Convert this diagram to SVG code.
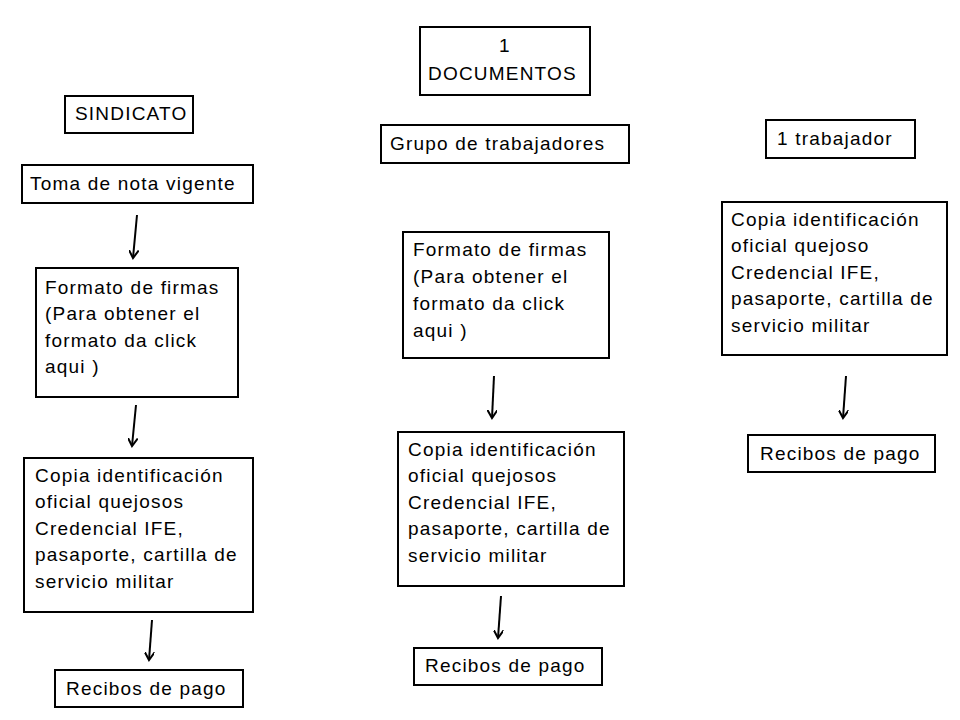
<svg xmlns="http://www.w3.org/2000/svg" width="960" height="720" viewBox="0 0 960 720">
<style>
rect{fill:#fff;stroke:#000;stroke-width:2}
text{font-family:"Liberation Sans",Arial,sans-serif;font-size:19px;letter-spacing:1.2px;fill:#000}
.c line{stroke:#000;stroke-width:2;marker-end:url(#a)}
</style>
<defs><marker id="a" markerWidth="10" markerHeight="10" refX="8" refY="5" orient="auto" markerUnits="userSpaceOnUse"><path d="M0,0L8,5L0,10" fill="none" stroke="#000" stroke-width="2"/></marker></defs>
<rect x="0" y="0" width="960" height="720" style="stroke:none"/>
<g id="documentos"><rect x="420" y="27" width="170" height="68"/><text x="499" y="52">1</text><text x="428" y="80">DOCUMENTOS</text></g>
<g id="sindicato"><rect x="65" y="96" width="128" height="37"/><text x="75" y="120">SINDICATO</text></g>
<g id="grupo"><rect x="381" y="125" width="248" height="38"/><text x="390" y="150">Grupo de trabajadores</text></g>
<g id="trabajador"><rect x="766" y="120" width="149" height="38"/><text x="777" y="145">1 trabajador</text></g>
<g id="toma"><rect x="22" y="165" width="231" height="38"/><text x="30" y="190">Toma de nota vigente</text></g>
<g id="formatoL"><rect x="36" y="268" width="202" height="129"/><text x="45" y="294">Formato de firmas</text><text x="45" y="320">(Para obtener el</text><text x="45" y="347">formato  da click</text><text x="45" y="373">aqui )</text></g>
<g id="formatoM"><rect x="403" y="232" width="206" height="126"/><text x="413" y="256">Formato de firmas</text><text x="413" y="283">(Para obtener el</text><text x="413" y="310">formato  da click</text><text x="413" y="337">aqui )</text></g>
<g id="copiaR"><rect x="722" y="202" width="225" height="153"/><text x="731" y="226">Copia identificación</text><text x="731" y="252">oficial quejoso</text><text x="731" y="279">Credencial IFE,</text><text x="731" y="305">pasaporte, cartilla de</text><text x="731" y="332">servicio militar</text></g>
<g id="copiaL"><rect x="24" y="458" width="229" height="154"/><text x="35" y="482">Copia identificación</text><text x="35" y="508">oficial quejosos</text><text x="35" y="535">Credencial IFE,</text><text x="35" y="561">pasaporte, cartilla de</text><text x="35" y="588">servicio militar</text></g>
<g id="copiaM"><rect x="398" y="432" width="226" height="154"/><text x="408" y="456">Copia identificación</text><text x="408" y="482">oficial quejosos</text><text x="408" y="509">Credencial IFE,</text><text x="408" y="535">pasaporte, cartilla de</text><text x="408" y="562">servicio militar</text></g>
<g id="recibosL"><rect x="55" y="670" width="188" height="37"/><text x="66" y="695">Recibos de pago</text></g>
<g id="recibosM"><rect x="414" y="648" width="188" height="37"/><text x="425" y="672">Recibos de pago</text></g>
<g id="recibosR"><rect x="748" y="435" width="187" height="37"/><text x="760" y="460">Recibos de pago</text></g>
<g class="c" id="connectors">
<line x1="137" y1="215" x2="133" y2="258"/>
<line x1="136" y1="405" x2="132" y2="446"/>
<line x1="152" y1="620" x2="149" y2="660"/>
<line x1="494" y1="376" x2="492" y2="418"/>
<line x1="501" y1="596" x2="498" y2="638"/>
<line x1="846" y1="376" x2="843" y2="418"/>
</g>
</svg>
